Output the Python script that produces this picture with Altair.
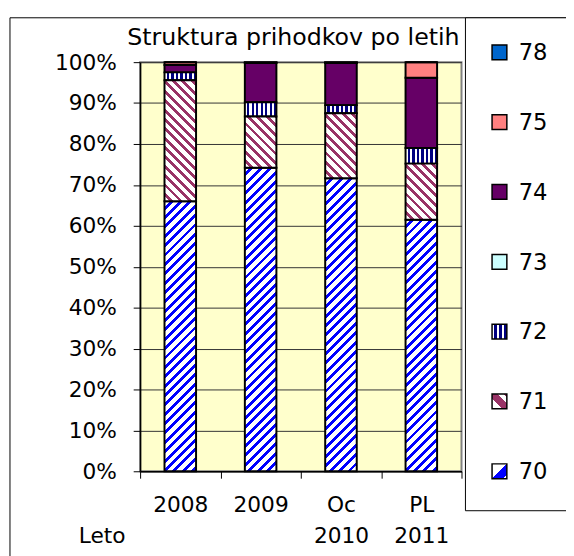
import altair as alt
import pandas as pd

# ---------------- data ----------------
years = ["2008", "2009", "Oc|2010", "PL|2011"]
series = ["70", "71", "72", "73", "74", "75", "78"]
v70 = [66.0, 74.2, 71.6, 61.5]
v71 = [29.6, 12.5, 15.9, 13.7]
v72 = [1.9, 3.5, 2.0, 3.8]
v73 = [0.0, 0.0, 0.0, 0.0]
v74 = [1.8, 9.6, 10.3, 17.2]
v75 = [0.7, 0.1, 0.1, 3.8]
v78 = [0.0, 0.1, 0.1, 0.0]
values = {"70": v70, "71": v71, "72": v72, "73": v73, "74": v74, "75": v75, "78": v78}
y_ticks = list(range(0, 101, 10))
title_text = "Struktura prihodkov po letih"
x_title = "Leto"
legend_order = ["78", "75", "74", "73", "72", "71", "70"]

rows = []
for si, s in enumerate(series):
    for yi, yr in enumerate(years):
        rows.append({"year": yr, "series": s, "order": si, "value": values[s][yi]})
df = pd.DataFrame(rows)

# ---------------- layout / style ----------------
W, H = 326, 415
BAR_W = 32
FONT = "DejaVu Sans"
solid_colors = {"73": "#CCFFFF", "74": "#660066", "75": "#FF8080", "78": "#0066CC"}
C70, C71, C72 = "#0000FF", "#993366", "#000080"


def diag_gradient(h, w, color, period, frac, direction):
    h = max(h, 1.0)
    gx = w * (w + h) / (w * w + h * h)
    gy = h * (w + h) / (w * w + h * h)
    if direction == "/":
        x1, y1, x2, y2 = 0, 0, gx, gy
    else:
        x1, y1, x2, y2 = 0, 1, gx, 1 - gy
    pt = period / (w + h)
    stops = []
    t = 0.0
    while t < 1:
        b = min(t + pt * (1 - frac), 1)
        c = min(t + pt, 1)
        stops += [
            {"offset": round(t, 5), "color": "#FFFFFF"},
            {"offset": round(b, 5), "color": "#FFFFFF"},
            {"offset": round(b, 5), "color": color},
            {"offset": round(c, 5), "color": color},
        ]
        t += pt
    return {"gradient": "linear", "x1": round(x1, 5), "y1": round(y1, 5),
            "x2": round(x2, 5), "y2": round(y2, 5), "stops": stops}


def vstripe_gradient(color, n, frac):
    stops = []
    for i in range(n):
        a = i / n
        b = (i + 1 - frac) / n
        c = (i + 1) / n
        stops += [
            {"offset": round(a, 5), "color": "#FFFFFF"},
            {"offset": round(b, 5), "color": "#FFFFFF"},
            {"offset": round(b, 5), "color": color},
            {"offset": round(c, 5), "color": color},
        ]
    return {"gradient": "linear", "x1": 0, "y1": 0, "x2": 1, "y2": 0, "stops": stops}


x_enc = alt.X(
    "year:N",
    sort=years,
    scale=alt.Scale(domain=years, paddingInner=0, paddingOuter=0),
    axis=alt.Axis(
        tickBand="extent", tickSize=7, tickColor="black", tickWidth=1,
        domainColor="black", domainWidth=1.5,
        labelPadding=17, labelBaseline="top", labelLineHeight=31,
        labelExpr="split(datum.label, '|')", labelAngle=0, labelOverlap=False,
        labelFont=FONT, labelFontSize=22, labelColor="black",
        title=x_title, titleX=-39, titleY=72, titleAlign="center",
        titleBaseline="alphabetic", titleFont=FONT, titleFontSize=22,
        titleFontWeight="normal", titleColor="black", grid=False,
    ),
)
y_enc = alt.Y(
    "y0:Q",
    scale=alt.Scale(domain=[0, 100], nice=False),
    axis=alt.Axis(
        values=y_ticks, labelExpr="datum.value + '%'", tickSize=7,
        tickColor="black", domainColor="black", domainWidth=1.5,
        labelPadding=17, labelFont=FONT, labelFontSize=22, labelColor="black",
        grid=True, gridColor="#333333", gridWidth=1, title=None,
    ),
)

base = alt.Chart(df).transform_stack(
    stack="value", groupby=["year"], as_=["y0", "y1"],
    sort=[alt.SortField("order", order="ascending")],
)

layers = []

# outer frame (decoration)
deco = alt.Data(values=[{"d": 1}])
layers.append(
    alt.Chart(deco).mark_rect(fill="white", fillOpacity=0, stroke="black", strokeWidth=1).encode(
        x=alt.value(-132), x2=alt.value(W + 120), y=alt.value(-45), y2=alt.value(H + 100)
    )
)

# bars: solid series
layers.append(
    base.transform_filter("indexof(['73','74','75','78'], datum.series) >= 0")
    .mark_bar(width=BAR_W, stroke="black", strokeWidth=2)
    .encode(
        x=x_enc, y=y_enc, y2="y1:Q",
        color=alt.Color("series:N", scale=alt.Scale(domain=list(solid_colors.keys()),
                                                     range=list(solid_colors.values())), legend=None),
    )
)

# bars: 72 vertical stripes
layers.append(
    base.transform_filter("datum.series == '72'")
    .mark_bar(width=BAR_W, stroke="black", strokeWidth=2, fill=vstripe_gradient(C72, 7, 0.5))
    .encode(x=x_enc, y=y_enc, y2="y1:Q")
)

# bars: 70 and 71 diagonal stripes (one layer per bar so the stripe pitch stays constant)
for s, col, direction in [("70", C70, "/"), ("71", C71, "\\")]:
    for yi, yr in enumerate(years):
        hpx = values[s][yi] / 100.0 * H
        grad = diag_gradient(hpx, BAR_W, col, 9.5, 0.42, direction)
        layers.append(
            base.transform_filter(f"datum.series == '{s}' && datum.year == '{yr}'")
            .mark_bar(width=BAR_W, stroke="black", strokeWidth=2, fill=grad)
            .encode(x=x_enc, y=y_enc, y2="y1:Q")
        )

# title
layers.append(
    alt.Chart(deco).mark_text(text=title_text, font=FONT, fontSize=24, align="center",
                              baseline="alphabetic", color="black")
    .encode(x=alt.value(155.5), y=alt.value(-17))
)

# legend box
layers.append(
    alt.Chart(deco).mark_rect(fill="white", stroke="black", strokeWidth=1).encode(
        x=alt.value(330), x2=alt.value(W + 120), y=alt.value(-45), y2=alt.value(455)
    )
)

legend_fills = {
    "78": solid_colors["78"],
    "75": solid_colors["75"],
    "74": solid_colors["74"],
    "73": solid_colors["73"],
    "72": vstripe_gradient(C72, 3, 0.6),
    "71": {"gradient": "linear", "x1": 0, "y1": 1, "x2": 1, "y2": 0, "stops": [
        {"offset": 0, "color": "#FFFFFF"}, {"offset": 0.35, "color": "#FFFFFF"},
        {"offset": 0.35, "color": C71}, {"offset": 0.7, "color": C71},
        {"offset": 0.7, "color": "#FFFFFF"}, {"offset": 0.88, "color": "#FFFFFF"},
        {"offset": 0.88, "color": C71}, {"offset": 1, "color": C71}]},
    "70": {"gradient": "linear", "x1": 0, "y1": 0, "x2": 1, "y2": 1, "stops": [
        {"offset": 0, "color": "#FFFFFF"}, {"offset": 0.48, "color": "#FFFFFF"},
        {"offset": 0.48, "color": C70}, {"offset": 0.85, "color": C70},
        {"offset": 0.85, "color": "#FFFFFF"}, {"offset": 1, "color": "#FFFFFF"}]},
}

for k, s in enumerate(legend_order):
    cy = -10 + 70.83 * k
    layers.append(
        alt.Chart(deco).mark_rect(fill=legend_fills[s], stroke="black", strokeWidth=1.5).encode(
            x=alt.value(357), x2=alt.value(372), y=alt.value(cy - 7.5), y2=alt.value(cy + 7.5)
        )
    )
    layers.append(
        alt.Chart(deco).mark_text(text=s, font=FONT, fontSize=23, align="left",
                                  baseline="alphabetic", color="black")
        .encode(x=alt.value(384), y=alt.value(cy + 8))
    )

chart = (
    alt.layer(*layers)
    .properties(
        width=W, height=H,
        autosize=alt.AutoSizeParams(type="none"),
        padding={"left": 134, "top": 51, "right": 106, "bottom": 82},
        background="white",
    )
    .configure_view(fill="#FFFFCC", stroke="#808080", strokeWidth=2)
)

chart.save("out.html", embed_options={"renderer": "svg", "actions": False})
